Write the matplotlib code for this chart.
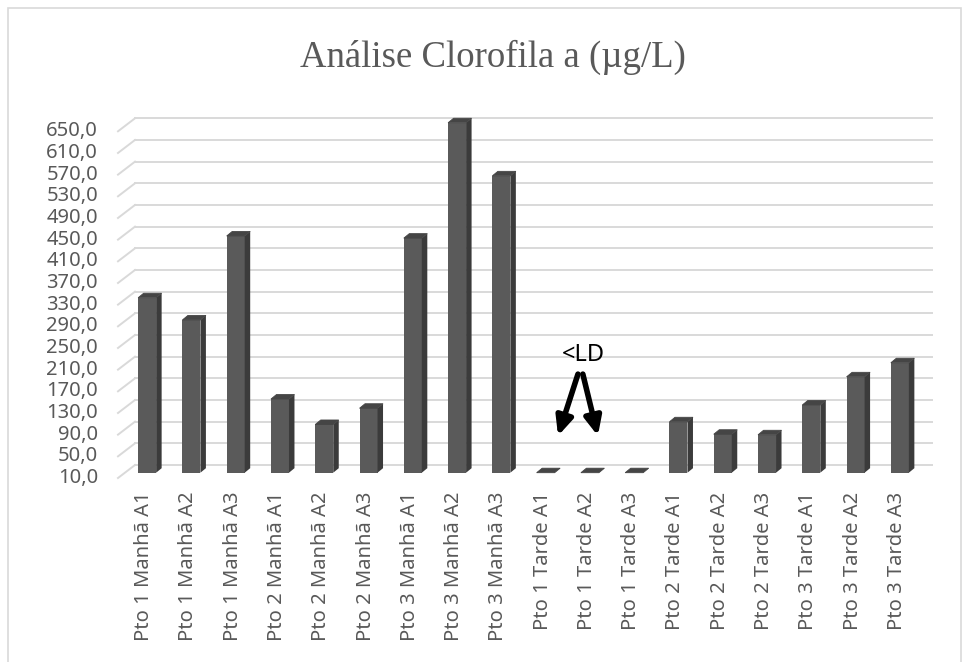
import matplotlib
matplotlib.use("Agg")
import matplotlib.pyplot as plt
from matplotlib.patches import Polygon, Rectangle
from matplotlib.transforms import ScaledTranslation

categories = ["Pto 1 Manhã A1", "Pto 1 Manhã A2", "Pto 1 Manhã A3",
              "Pto 2 Manhã A1", "Pto 2 Manhã A2", "Pto 2 Manhã A3",
              "Pto 3 Manhã A1", "Pto 3 Manhã A2", "Pto 3 Manhã A3",
              "Pto 1 Tarde A1", "Pto 1 Tarde A2", "Pto 1 Tarde A3",
              "Pto 2 Tarde A1", "Pto 2 Tarde A2", "Pto 2 Tarde A3",
              "Pto 3 Tarde A1", "Pto 3 Tarde A2", "Pto 3 Tarde A3"]
values = [333, 292, 447, 146, 99, 129, 443, 656, 558,
          1.5, 1.5, 3.0, 104, 81, 80, 135, 187, 213]
y_ticks = [10, 50, 90, 130, 170, 210, 250, 290, 330, 370, 410, 450,
           490, 530, 570, 610, 650]
y_tick_labels = ["10,0", "50,0", "90,0", "130,0", "170,0", "210,0", "250,0",
                 "290,0", "330,0", "370,0", "410,0", "450,0", "490,0",
                 "530,0", "570,0", "610,0", "650,0"]
title = "Análise Clorofila a (µg/L)"
ld_label = "<LD"

W, H, DPI = 969, 662, 100
fig = plt.figure(figsize=(W / DPI, H / DPI), dpi=DPI)
fig.patch.set_facecolor("white")

# bar plane axes
ax = fig.add_axes([125 / W, 1 - 472.7 / H, (922 - 125) / W, (472.7 - 126) / H])
ymin, ymax = y_ticks[0], y_ticks[-1]
ax.set_xlim(-0.5, len(categories) - 0.5)
ax.set_ylim(ymin, ymax)
ax.axis("off")

sx = ax.bbox.width / len(categories)
sy = ax.bbox.height / (ymax - ymin)

def off(dx, dy):
    return ax.transData + ScaledTranslation(dx / DPI, dy / DPI, fig.dpi_scale_trans)

t_back = off(10, 7.7)
t_front = off(-7, -5.3)

grid_c = "#d9d9d9"
x0, x1 = -0.5, len(categories) - 0.5
inv = ax.transData.inverted()
# back-wall gridlines + depth diagonals at the left
for t in y_ticks:
    ax.plot([x0, x1], [t, t], color=grid_c, lw=1.4, transform=t_back, clip_on=False, zorder=1)
    a = inv.transform(t_front.transform((x0, t)))
    b = inv.transform(t_back.transform((x0, t)))
    ax.plot([a[0], b[0]], [a[1], b[1]], color=grid_c, lw=1.4, clip_on=False, zorder=1)

label_font = "Noto Sans"
# y tick labels on front plane
for t, lab in zip(y_ticks, y_tick_labels):
    ax.text(x0, t, lab, transform=off(-7 - 20, -5.3), ha="right", va="center",
            fontsize=14.5, family=label_font, color="#595959")

# x labels
for i, cat in enumerate(categories):
    ax.text(i, ymin, cat, transform=off(-3, -19), rotation=90, ha="center", va="top",
            fontsize=14.5, family=label_font, color="#595959")

# 3D-like bars
w = 18 / sx
dxd = 5.5 / sx
dyd = 4.5 / sy
front_c, side_c, top_c = "#5a5a5a", "#3b3b3b", "#454545"
for i, v in enumerate(values):
    h = max(v, ymin)
    if h > ymin:
        ax.add_patch(Rectangle((i - w / 2, ymin), w, h - ymin, facecolor=front_c,
                               edgecolor="none", clip_on=False, zorder=3))
        ax.add_patch(Polygon([(i + w / 2, ymin), (i + w / 2, h),
                              (i + w / 2 + dxd, h + dyd), (i + w / 2 + dxd, ymin + dyd)],
                             closed=True, facecolor=side_c, edgecolor="none",
                             clip_on=False, zorder=3))
    ax.add_patch(Polygon([(i - w / 2, h), (i + w / 2, h),
                          (i + w / 2 + dxd, h + dyd), (i - w / 2 + dxd, h + dyd)],
                         closed=True, facecolor=top_c, edgecolor=top_c, lw=0.6,
                         clip_on=False, zorder=3))

# <LD annotation with two arrows
ax.text(9.86, 227, ld_label, ha="center", va="center", fontsize=17,
        family=label_font, color="black", zorder=5)
arrow_style = "-|>,head_length=1.1,head_width=0.5"
ax.annotate("", xy=(9.28, 78), xytext=(9.73, 192),
            arrowprops=dict(arrowstyle=arrow_style, lw=4, color="black",
                            shrinkA=0, shrinkB=0), zorder=5)
ax.annotate("", xy=(10.18, 78), xytext=(9.84, 192),
            arrowprops=dict(arrowstyle=arrow_style, lw=4, color="black",
                            shrinkA=0, shrinkB=0), zorder=5)

# title
fig.text(493 / W, 1 - 57 / H, title, ha="center", va="center", fontsize=26.5,
         family="Liberation Serif", color="#595959")

# chart border
fig.patches.append(Rectangle((8 / W, -0.05), (961 - 8) / W, 1 - 8 / H + 0.05,
                             transform=fig.transFigure, fill=False,
                             edgecolor="#d9d9d9", lw=1.2))

fig.savefig("out.png", dpi=DPI)
